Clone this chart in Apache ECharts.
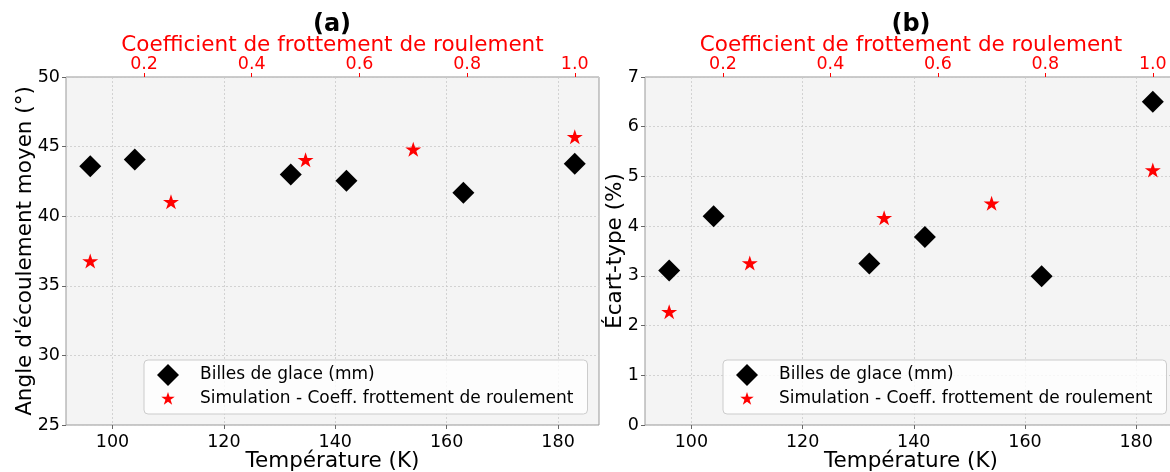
<!DOCTYPE html>
<html><head><meta charset="utf-8">
<script src="https://cdn.jsdelivr.net/npm/echarts@6/dist/echarts.min.js"></script>
<style>html,body{margin:0;padding:0;background:#fff}#c{width:1170px;height:472px}</style>
</head><body><div id="c"></div>
<script>
// ---- data ----
const temperature = [96, 104, 132, 142, 163, 183];
const coeff = [0.1, 0.25, 0.5, 0.7, 1.0];
const angleBilles = [43.58, 44.08, 42.99, 42.54, 41.68, 43.77];
const angleSim = [36.78, 41.04, 44.05, 44.81, 45.71];
const ecartBilles = [3.11, 4.20, 3.25, 3.78, 2.99, 6.50];
const ecartSim = [2.28, 3.26, 4.17, 4.46, 5.13];
const tempTicks = [100, 120, 140, 160, 180];
const coeffTicks = [0.2, 0.4, 0.6, 0.8, 1.0];
const nameBilles = 'Billes de glace (mm)';
const nameSim = 'Simulation - Coeff. frottement de roulement';

// ---- styling ----
const FONT = 'DejaVu Sans';
const STAR_BODY = 'M100 0L122.45 69.1L195.11 69.1L136.33 111.8L158.78 180.9L100 138.2L41.22 180.9L63.67 111.8L4.89 69.1L77.55 69.1Z';
const STAR = 'path://' + STAR_BODY;
const STAR_LEG = 'path://M-125.45 -55M325.45 255' + STAR_BODY;
const DIAMOND_LEG = 'path://M-22.73 50M122.73 50M50 0L100 50L50 100L0 50Z';
const pair = (xs, ys) => xs.map((x, i) => [x, ys[i]]);
const splitStyle = {show: true, lineStyle: {color: '#c9c9c9', width: 0.8, type: [2, 2]}};
const tickCol = '#666';

function bottomAxis(gi) {
  return {
    type: 'value', gridIndex: gi, position: 'bottom', min: 91.65, max: 187.35,
    axisLine: {show: false},
    axisTick: {show: true, length: 4, inside: false, customValues: tempTicks, lineStyle: {color: tickCol}},
    axisLabel: {customValues: tempTicks, margin: 8, fontSize: 17.5, fontFamily: FONT, color: '#000',
      formatter: v => tempTicks.some(t => Math.abs(t - v) < 1e-9) ? String(v) : ''},
    splitLine: splitStyle,
    name: 'Température (K)', nameLocation: 'middle', nameGap: 25, nameMoveOverlap: false,
    nameTextStyle: {fontSize: 21.5, fontFamily: FONT, color: '#000'}
  };
}
function topAxis(gi) {
  return {
    type: 'value', gridIndex: gi, position: 'top', min: 0.055, max: 1.045,
    axisLine: {show: false},
    axisTick: {show: true, length: 4, inside: false, customValues: coeffTicks, lineStyle: {color: '#ff0000'}},
    axisLabel: {customValues: coeffTicks, margin: 4, fontSize: 17.5, fontFamily: FONT, color: '#ff0000',
      formatter: v => coeffTicks.some(t => Math.abs(t - v) < 1e-9) ? v.toFixed(1) : ''},
    splitLine: {show: false},
    name: 'Coefficient de frottement de roulement', nameLocation: 'middle', nameGap: 21, nameMoveOverlap: false,
    nameTextStyle: {fontSize: 21.5, fontFamily: FONT, color: '#ff0000'}
  };
}
function leftAxis(gi, min, max, interval, name, gap) {
  return {
    type: 'value', gridIndex: gi, min, max, interval,
    axisLine: {show: false},
    axisTick: {show: true, length: 4, inside: false, lineStyle: {color: tickCol}},
    axisLabel: {margin: 6, fontSize: 17.5, fontFamily: FONT, color: '#000'},
    splitLine: splitStyle,
    name, nameLocation: 'middle', nameGap: gap, nameMoveOverlap: false,
    nameTextStyle: {fontSize: 21.5, fontFamily: FONT, color: '#000'}
  };
}
function legend(left) {
  return {
    left, top: 360, orient: 'vertical',
    backgroundColor: 'rgba(255,255,255,0.8)', borderColor: '#cccccc', borderWidth: 1, borderRadius: 4,
    padding: [4, 14, 4, 8], itemWidth: 32, itemHeight: 22, itemGap: 2,
    textStyle: {fontSize: 17, fontFamily: FONT, color: '#000', padding: [0, 0, 0, 11]},
    data: [{name: nameBilles, icon: DIAMOND_LEG}, {name: nameSim, icon: STAR_LEG}]
  };
}

const option = {
  animation: false,
  backgroundColor: '#ffffff',
  title: [
    {text: '(a)', left: 332, top: 13, textAlign: 'center', padding: 0,
     textStyle: {fontSize: 24, fontWeight: 'bold', fontFamily: FONT, color: '#000'}},
    {text: '(b)', left: 911, top: 13, textAlign: 'center', padding: 0,
     textStyle: {fontSize: 24, fontWeight: 'bold', fontFamily: FONT, color: '#000'}}
  ],
  grid: [
    {left: 66, top: 77, width: 533, height: 348, outerBoundsMode: 'none', containLabel: false,
     show: true, backgroundColor: '#f4f4f4', borderColor: '#999', borderWidth: 1},
    {left: 645, top: 77, width: 532, height: 348, outerBoundsMode: 'none', containLabel: false,
     show: true, backgroundColor: '#f4f4f4', borderColor: '#999', borderWidth: 1}
  ],
  xAxis: [bottomAxis(0), topAxis(0), bottomAxis(1), topAxis(1)],
  yAxis: [
    leftAxis(0, 25, 50, 5, "Angle d'écoulement moyen (°)", 30),
    leftAxis(1, 0, 7, 1, 'Écart-type (%)', 19)
  ],
  legend: [legend(144), legend(723)],
  series: [
    {type: 'scatter', name: nameBilles, xAxisIndex: 0, yAxisIndex: 0, data: pair(temperature, angleBilles),
     symbol: 'diamond', symbolSize: [22, 22], itemStyle: {color: '#000', opacity: 1}},
    {type: 'scatter', name: nameSim, xAxisIndex: 1, yAxisIndex: 0, data: pair(coeff, angleSim),
     symbol: STAR, symbolSize: [16, 15], itemStyle: {color: '#ff0000', opacity: 1}},
    {type: 'scatter', name: nameBilles, xAxisIndex: 2, yAxisIndex: 1, data: pair(temperature, ecartBilles),
     symbol: 'diamond', symbolSize: [22, 22], itemStyle: {color: '#000', opacity: 1}},
    {type: 'scatter', name: nameSim, xAxisIndex: 3, yAxisIndex: 1, data: pair(coeff, ecartSim),
     symbol: STAR, symbolSize: [16, 15], itemStyle: {color: '#ff0000', opacity: 1}}
  ]
};
const chart = echarts.init(document.getElementById('c'), null, {renderer: 'canvas'});
chart.setOption(option);
</script>
</body></html>
